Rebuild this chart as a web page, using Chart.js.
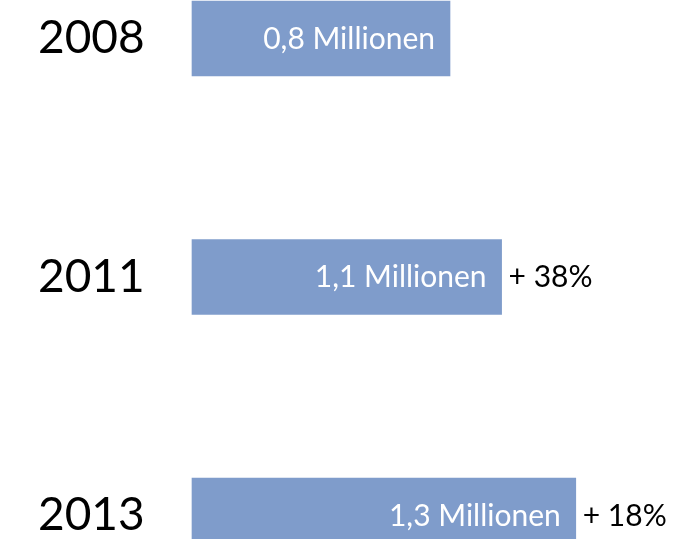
<!DOCTYPE html>
<html>
<head>
<meta charset="utf-8">
<script src="https://cdn.jsdelivr.net/npm/chart.js@4/dist/chart.umd.min.js"></script>
<style>
  html, body { margin: 0; padding: 0; background: #fff; }
  #box { width: 686px; height: 539px; position: relative; }
</style>
</head>
<body>
<div id="box"><canvas id="grafica"></canvas></div>
<script>
// Jahre (Kategorien)
const jahre = ['2008', '2011', '2013']
const balken = [0.8, 0.96, 1.19]
// Beschriftungen in den Balken
const werteText = ['0,8 Millionen', '1,1 Millionen', '1,3 Millionen']
// Veraenderung gegenueber vorher
const zuwachs = ['', '+ 38%', '+ 18%']

const schrift = 'Lato, "Open Sans", sans-serif'

// Texte an den Balken zeichnen
const beschriftung = {
  id: 'beschriftung',
  afterDatasetsDraw(chart) {
    const ctx = chart.ctx
    const meta = chart.getDatasetMeta(0)
    ctx.save()
    ctx.font = '30px ' + schrift
    ctx.textBaseline = 'alphabetic'
    meta.data.forEach((bar, i) => {
      const y = bar.y + 10
      ctx.fillStyle = '#ffffff'
      ctx.textAlign = 'right'
      ctx.fillText(werteText[i], bar.x - 15, y)
      if (zuwachs[i]) {
        ctx.fillStyle = '#000000'
        ctx.textAlign = 'left'
        ctx.fillText(zuwachs[i], bar.x + 7, y)
      }
    })
    ctx.restore()
  }
}

const ctx = document.getElementById('grafica')

const grafica = new Chart(ctx, {
  type: 'bar',
  data: {
    labels: jahre,
    datasets: [{
      data: balken,
      backgroundColor: '#7f9ccb',
      borderWidth: 0,
      barThickness: 75,
      clip: false
    }]
  },
  options: {
    indexAxis: 'y',
    responsive: true,
    maintainAspectRatio: false,
    animation: false,
    layout: {
      padding: { left: 38, top: 38.5, bottom: 23.5, right: 10.25 }
    },
    plugins: {
      legend: { display: false },
      tooltip: { enabled: false }
    },
    scales: {
      x: {
        display: false,
        min: 0,
        max: 1.5
      },
      y: {
        offset: false,
        grid: { display: false },
        border: { display: false },
        ticks: {
          crossAlign: 'far',
          autoSkip: false,
          color: '#000000',
          font: { family: schrift, size: 46 }
        },
        afterFit(scale) {
          scale.width = 154
          scale.paddingTop = 0
          scale.paddingBottom = 0
        }
      }
    }
  },
  plugins: [beschriftung]
})
</script>
</body>
</html>
